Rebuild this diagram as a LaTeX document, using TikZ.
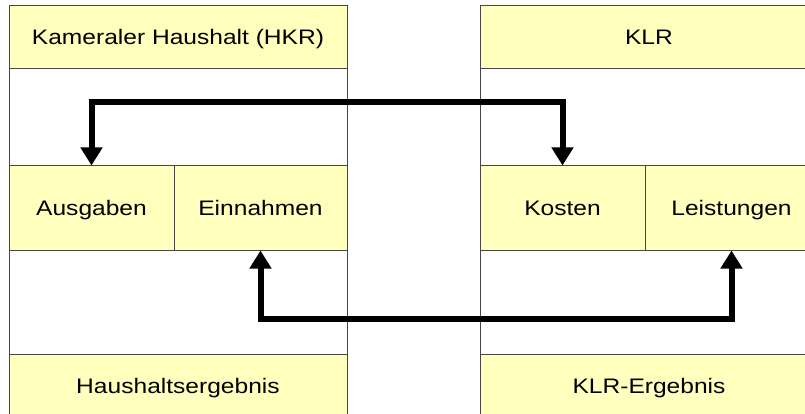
\documentclass[tikz,border=0pt]{standalone}
\usepackage{fontspec}
\setmainfont[FakeStretch=1.17]{Liberation Sans}
\usetikzlibrary{arrows.meta}
\definecolor{cellfill}{RGB}{255,255,190}
\definecolor{edge}{RGB}{70,70,70}
\tikzset{
  column/.style={draw=edge, line width=1pt, fill=white},
  cell/.style={draw=edge, line width=1pt, fill=cellfill, inner sep=0pt,
    text height=15pt, text depth=0pt,
    font=\fontsize{21}{25}\selectfont},
  flow/.style={line width=6pt, {Triangle[width=21pt,length=18pt]}-{Triangle[width=21pt,length=18pt]}}
}
\begin{document}
\begin{tikzpicture}[x=1pt,y=-1pt]
  \useasboundingbox (0,0) rectangle (805,414);
  \clip (0,0) rectangle (805,414);
  % columns
  \path[column] (9,6) rectangle (347,418);
  \path[column] (480,6) rectangle (818,418);
  % left column: cameral budget
  \node[cell, minimum width=338pt, minimum height=63pt] (hkr) at (178,37.5) {Kameraler Haushalt (HKR)};
  \node[cell, minimum width=165pt, minimum height=84pt] (aus) at (91.5,208) {Ausgaben};
  \node[cell, minimum width=173pt, minimum height=84pt] (ein) at (260.5,208) {Einnahmen};
  \node[cell, minimum width=338pt, minimum height=63pt] (hhe) at (178,385.5) {Haushaltsergebnis};
  % right column: cost and performance accounting
  \node[cell, minimum width=338pt, minimum height=63pt] (klr) at (649,37.5) {KLR};
  \node[cell, minimum width=165pt, minimum height=84pt] (kos) at (562.5,208) {Kosten};
  \node[cell, minimum width=173pt, minimum height=84pt] (lei) at (731.5,208) {Leistungen};
  \node[cell, minimum width=338pt, minimum height=63pt] (kle) at (649,385.5) {KLR-Ergebnis};
  % connectors
  \draw[flow] (aus.north) -- ++(0,-63) -| (kos.north);
  \draw[flow] (ein.south) -- ++(0,68) -| (lei.south);
\end{tikzpicture}
\end{document}
